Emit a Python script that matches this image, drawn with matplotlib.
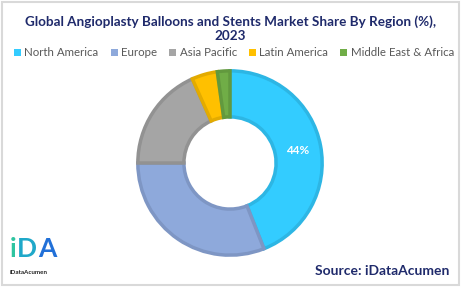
import matplotlib
matplotlib.use("Agg")
import matplotlib.pyplot as plt
from matplotlib.patches import Rectangle
import numpy as np

regions = ["North America", "Europe", "Asia Pacific", "Latin America", "Middle East & Africa"]
shares = [44, 31, 18.3, 4.5, 2.2]
colors = ["#33CCFF", "#8EA9DB", "#A5A5A5", "#FFC000", "#70AD47"]
edges = ["#2DB6E4", "#7E96C4", "#929292", "#E3AB00", "#62993E"]
labels_shown = ["44%", "", "", "", ""]

title = "Global Angioplasty Balloons and Stents Market Share By Region (%),\n2023"
source = "Source: iDataAcumen"

W, H = 461, 287
fig = plt.figure(figsize=(W / 100, H / 100), dpi=100)
fig.patch.set_facecolor("white")
fig.add_artist(Rectangle((0.004, 0.006), 0.991, 0.988, transform=fig.transFigure,
                         fill=False, edgecolor="#D9D9D9", linewidth=1.5))

fam = ["Lato", "DejaVu Sans"]
fig.text(0.5, 1 - 29 / H, title, ha="center", va="center", fontsize=9.7,
         fontweight="bold", color="#1F2A6B", family=fam, linespacing=1.2)

# legend
handles = [Rectangle((0, 0), 1, 1, facecolor=c) for c in colors]
leg = fig.legend(handles, regions, loc="center", bbox_to_anchor=(234 / W, 1 - 53 / H),
                 ncol=5, frameon=False, handlelength=0.6, handleheight=0.6,
                 handletextpad=0.3, columnspacing=1.05, borderpad=0,
                 prop={"family": fam, "size": 8.3})
for t in leg.get_texts():
    t.set_color("#595959")

# donut
cx, cy, r = 230, 163, 94
ax = fig.add_axes([(cx - r) / W, (H - cy - r) / H, 2 * r / W, 2 * r / H])
wedges, _ = ax.pie(shares, colors=colors, startangle=90, counterclock=False,
                   radius=1.0, wedgeprops=dict(width=0.5, linewidth=2.5))
for w, e in zip(wedges, edges):
    w.set_edgecolor(e)
cum = np.cumsum([0] + shares)
for i, lab in enumerate(labels_shown):
    if lab:
        mid = 90 - 360 * (cum[i] + shares[i] / 2) / 100
        rr = 0.75
        ax.text(rr * np.cos(np.radians(mid)), rr * np.sin(np.radians(mid)), lab,
                ha="center", va="center", color="white", fontsize=8.5, fontweight="bold", family=fam)
ax.set_aspect("equal")
ax.set_xlim(-1.02, 1.02)
ax.set_ylim(-1.02, 1.02)
ax.axis("off")

# logo
fig.text(10 / W, 1 - 249 / H, "i", fontsize=19, fontweight="bold", color="#2EC4A0",
         family=fam, va="center", ha="left")
fig.text(17 / W, 1 - 249 / H, "D", fontsize=19, fontweight="bold", color="#1FA8C9",
         family=fam, va="center", ha="left")
fig.text(38 / W, 1 - 249 / H, "A", fontsize=19, fontweight="bold", color="#2170D8",
         family=fam, va="center", ha="left")
fig.text(10 / W, 1 - 272 / H, "iDataAcumen", fontsize=4.5, fontweight="bold", color="#222222",
         family=fam, va="center", ha="left")

fig.text(449 / W, 1 - 271 / H, source, ha="right", va="center", fontsize=10,
         fontweight="bold", color="#1F2A6B", family=fam)

fig.savefig("out.png", dpi=100, facecolor="white")
